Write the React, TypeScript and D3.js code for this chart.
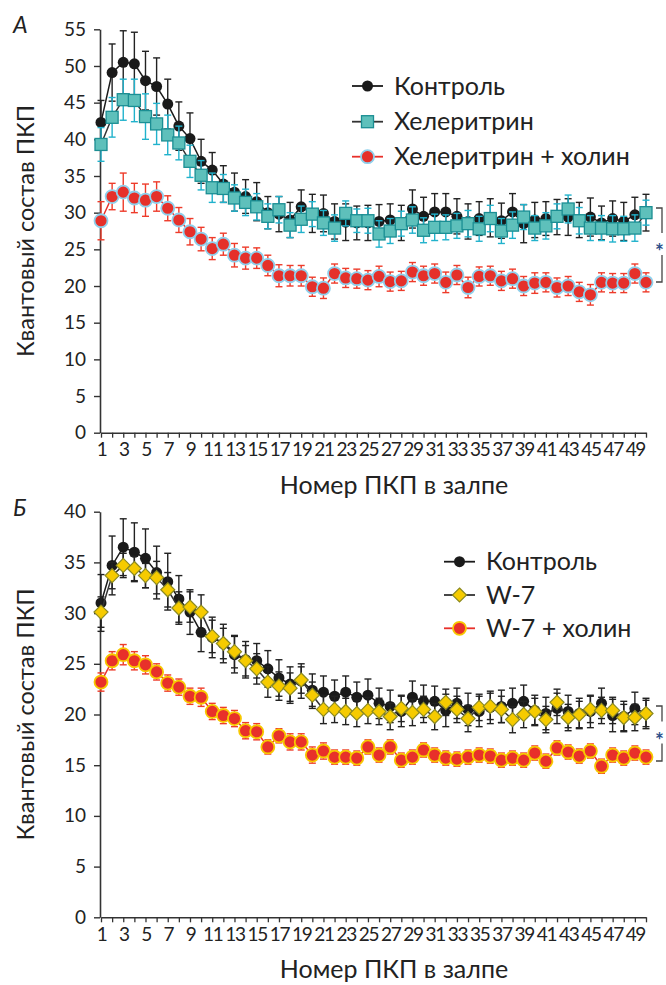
import React, { useRef, useEffect } from "react";
import * as d3 from "d3";

// pulse numbers in the train (x axis)
const pulses = d3.range(1, 51);
const xTickLabels = [1, 3, 5, 7, 9, 11, 13, 15, 17, 19, 21, 23, 25, 27, 29, 31, 33, 35, 37, 39, 41, 43, 45, 47, 49];
const yTicksA = [0, 5, 10, 15, 20, 25, 30, 35, 40, 45, 50, 55];
const yTicksB = [0, 5, 10, 15, 20, 25, 30, 35, 40];

// panel A
const controlA = [42.3, 49.1, 50.5, 50.3, 48, 47.2, 44.8, 41.8, 40.1, 37, 35.8, 33.9, 32.8, 32.2, 31.5, 30, 29.8, 29, 30.8, 29.9, 29.9, 28.8, 28.7, 28.6, 28.6, 28.8, 29, 28.6, 30.5, 29.5, 30.1, 30.1, 29.5, 28.8, 29.2, 29.3, 28.9, 30.1, 28.5, 29, 29.2, 29.4, 29.4, 29, 29.4, 28.6, 29.2, 28.8, 29.7, 30];
const controlAErr = [3.0, 3.9, 4.3, 4.3, 4.0, 3.9, 3.4, 3.3, 3.5, 3.0, 2.4, 2.5, 2.6, 2.3, 2.6, 2.2, 2.4, 2.4, 2.3, 2.6, 2.5, 2.4, 2.5, 2.3, 2.4, 2.3, 2.2, 2.4, 2.6, 2.6, 2.5, 2.5, 2.4, 2.4, 2.3, 2.6, 2.4, 2.5, 2.6, 2.4, 2.3, 2.4, 2.5, 2.4, 2.6, 2.3, 2.4, 2.6, 2.4, 2.5];
const chelA = [39.3, 43, 45.4, 45.3, 43.1, 42.1, 40.6, 39.5, 37, 35.1, 33.4, 33.3, 32, 31.4, 30.8, 29.5, 30.4, 28.3, 29.1, 29.8, 28.6, 27.9, 29.9, 28.9, 28.9, 27.1, 27.5, 28.5, 29, 27.6, 28, 28, 28.2, 28.5, 27.8, 29.2, 27.5, 28.3, 29.4, 27.9, 28.2, 29.5, 30.5, 28.9, 27.9, 27.9, 27.8, 27.8, 27.9, 30];
const chelAErr = [2.3, 2.7, 2.8, 2.9, 3.1, 2.8, 2.7, 2.3, 2.2, 2.0, 2.0, 1.9, 1.8, 1.8, 1.8, 1.7, 1.8, 1.7, 1.8, 1.7, 1.7, 1.8, 1.7, 1.6, 1.7, 1.8, 1.7, 1.7, 1.8, 1.7, 1.8, 1.7, 1.7, 1.8, 1.7, 1.8, 1.7, 1.8, 1.7, 1.7, 1.8, 1.7, 1.9, 1.8, 1.7, 1.7, 1.8, 1.7, 1.8, 1.7];
const cholA = [28.9, 32.2, 32.8, 32, 31.7, 32.2, 30.6, 29, 27.4, 26.4, 25.1, 25.7, 24.2, 23.8, 23.8, 22.8, 21.4, 21.4, 21.4, 19.9, 19.7, 21.7, 21.1, 21, 20.8, 21.3, 20.6, 20.7, 21.9, 21.4, 21.7, 20.5, 21.5, 19.8, 21.3, 21.4, 20.7, 21, 20, 20.4, 20.5, 19.8, 20, 19.2, 18.8, 20.5, 20.4, 20.4, 21.7, 20.5];
const cholAErr = [2.6, 1.8, 2.6, 2.0, 2.2, 2.0, 1.7, 1.7, 1.8, 1.6, 1.5, 1.5, 1.6, 1.5, 1.4, 1.4, 1.5, 1.4, 1.4, 1.3, 1.4, 1.3, 1.3, 1.3, 1.3, 1.4, 1.3, 1.3, 1.3, 1.3, 1.3, 1.4, 1.3, 1.4, 1.3, 1.3, 1.3, 1.3, 1.3, 1.4, 1.3, 1.3, 1.3, 1.3, 1.4, 1.3, 1.3, 1.3, 1.3, 1.3];

// panel B
const controlB = [31, 34.7, 36.5, 36, 35.4, 34, 33.1, 31.4, 30.1, 28.1, 27.6, 27, 25.9, 25.4, 25.3, 24.5, 23.6, 23, 23.3, 22.4, 22.2, 21.8, 22.2, 21.7, 21.9, 21.1, 20.8, 20.3, 21.7, 21.3, 21.3, 20.4, 21.1, 20.5, 20.3, 20.7, 20.8, 21.1, 21.3, 20.4, 20.1, 20.6, 20.3, 20.1, 20.3, 21.1, 19.9, 19.8, 20.6, 20.1];
const controlBErr = [2.8, 2.9, 2.8, 2.9, 2.9, 2.6, 2.8, 2.3, 2.2, 1.9, 2.0, 1.9, 1.8, 1.8, 1.7, 1.8, 1.8, 1.7, 1.7, 1.6, 1.6, 1.6, 1.6, 1.5, 1.6, 1.5, 1.6, 1.5, 1.6, 1.6, 1.5, 1.6, 1.5, 1.6, 1.5, 1.6, 1.6, 1.5, 1.6, 1.5, 1.6, 1.5, 1.6, 1.5, 1.6, 1.5, 1.6, 1.5, 1.6, 1.5];
const w7B = [30.1, 33.7, 34.7, 34.4, 33.7, 33.5, 32.3, 30.5, 30.6, 30.1, 27.7, 27, 26.2, 25.3, 24.5, 23.2, 22.8, 22.6, 23.4, 21.9, 20.5, 20.5, 20.3, 20.1, 20.4, 20.3, 19.8, 20.6, 20.2, 20.5, 19.8, 21.2, 20.5, 19.6, 20.7, 20.8, 20.5, 19.5, 20, 20.3, 19.5, 21.2, 19.7, 20, 20.5, 20.4, 20.4, 19.7, 19.7, 20.1];
const w7BErr = [1.5, 1.3, 1.2, 1.2, 1.2, 1.6, 1.7, 1.6, 1.5, 1.7, 1.6, 1.5, 1.6, 1.5, 1.5, 1.5, 1.4, 1.5, 1.3, 1.3, 1.4, 1.3, 1.3, 1.3, 1.3, 1.3, 1.3, 1.3, 1.3, 1.3, 1.3, 1.3, 1.3, 1.3, 1.3, 1.3, 1.3, 1.3, 1.3, 1.3, 1.3, 1.3, 1.3, 1.3, 1.3, 1.3, 1.3, 1.3, 1.3, 1.3];
const cholB = [23.2, 25.3, 25.9, 25.3, 24.9, 24.2, 23.1, 22.7, 21.8, 21.7, 20.3, 19.9, 19.6, 18.4, 18.3, 16.8, 17.9, 17.3, 17.3, 16, 16.4, 15.8, 15.8, 15.7, 16.8, 16, 16.8, 15.5, 15.8, 16.5, 16, 15.7, 15.6, 15.8, 16, 15.9, 15.5, 15.7, 15.5, 16.2, 15.4, 16.7, 16.3, 15.9, 16.4, 14.9, 16, 15.7, 16.2, 15.8];
const cholBErr = [0.9, 0.9, 1.0, 0.9, 0.9, 0.8, 0.8, 0.8, 0.8, 0.9, 0.8, 0.8, 0.8, 0.8, 0.8, 0.7, 0.7, 0.8, 0.8, 0.8, 0.8, 0.7, 0.7, 0.7, 0.7, 0.7, 0.7, 0.7, 0.7, 0.7, 0.7, 0.7, 0.7, 0.7, 0.7, 0.7, 0.7, 0.7, 0.7, 0.7, 0.7, 0.7, 0.7, 0.7, 0.7, 0.7, 0.7, 0.7, 0.7, 0.7];

const FONT = "Lato, 'Noto Sans', sans-serif";
const AXIS = "#333";

const panels = [
  {
    letter: "А",
    top: 29.3,
    bottom: 432.7,
    yMax: 55,
    yTicks: yTicksA,
    legendX: 352,
    legendY: [86, 121.7, 156.7],
    bracket: [208, 282],
    series: [
      { name: "Контроль", values: controlA, err: controlAErr, line: "#1a1a1a", errColor: "#222", shape: "circle", fill: "#1a1a1a", stroke: "#1a1a1a", r: 5.5 },
      { name: "Хелеритрин", values: chelA, err: chelAErr, line: "#333", errColor: "#21b2cc", shape: "square", fill: "#5ec0bb", stroke: "#1b8e93", r: 6 },
      { name: "Хелеритрин + холин", values: cholA, err: cholAErr, line: "#e8302a", errColor: "#ee3b2a", shape: "circle", fill: "#e5302a", stroke: "#8fd0ec", r: 6.5 },
    ],
  },
  {
    letter: "Б",
    top: 511.7,
    bottom: 917.3,
    yMax: 40,
    yTicks: yTicksB,
    legendX: 444,
    legendY: [561.7, 595, 628.3],
    bracket: [706, 761],
    series: [
      { name: "Контроль", values: controlB, err: controlBErr, line: "#1a1a1a", errColor: "#222", shape: "circle", fill: "#1a1a1a", stroke: "#1a1a1a", r: 5.5 },
      { name: "W-7", values: w7B, err: w7BErr, line: "#333", errColor: "#222", shape: "diamond", fill: "#f6cb00", stroke: "#8b8a22", r: 7 },
      { name: "W-7 + холин", values: cholB, err: cholBErr, line: "#e8302a", errColor: "#ee3b2a", shape: "circle", fill: "#e8302a", stroke: "#f7c800", r: 6.5 },
    ],
  },
];

function addMarker(g, shape, x, y, s) {
  if (shape === "square") {
    return g.append("rect").attr("x", x - s.r).attr("y", y - s.r).attr("width", s.r * 2).attr("height", s.r * 2)
      .attr("fill", s.fill).attr("stroke", s.stroke).attr("stroke-width", 1.3);
  }
  if (shape === "diamond") {
    return g.append("path")
      .attr("d", `M${x},${y - s.r}L${x + s.r},${y}L${x},${y + s.r}L${x - s.r},${y}Z`)
      .attr("fill", s.fill).attr("stroke", s.stroke).attr("stroke-width", 1.2);
  }
  return g.append("circle").attr("cx", x).attr("cy", y).attr("r", s.r)
    .attr("fill", s.fill).attr("stroke", s.stroke).attr("stroke-width", s.fill === s.stroke ? 0 : 1.8);
}

const App = () => {
  const svgRef = useRef(null);

  useEffect(() => {
    const svg = d3.select(svgRef.current);
    svg.selectAll("*").remove();

    const x = d3.scaleLinear().domain([1, 50]).range([101, 646]);

    panels.forEach((p) => {
      const y = d3.scaleLinear().domain([0, p.yMax]).range([p.bottom, p.top]);
      const g = svg.append("g");

      // y axis
      const yAxis = g.append("g")
        .attr("transform", `translate(100,0)`)
        .call(d3.axisLeft(y).tickValues(p.yTicks).tickSize(6).tickSizeOuter(0));
      yAxis.select(".domain").attr("stroke", AXIS).attr("stroke-width", 1.6);
      yAxis.selectAll(".tick line").attr("stroke", AXIS).attr("stroke-width", 1.4);
      yAxis.selectAll(".tick text").attr("x", -14).attr("font-size", 19).attr("font-family", FONT).attr("fill", "#222");

      // x axis: a tick at every pulse, labels at odd pulses
      const xAxis = g.append("g")
        .attr("transform", `translate(0,${p.bottom})`)
        .call(d3.axisBottom(x).tickValues(pulses).tickSize(5).tickSizeOuter(0)
          .tickFormat((d) => (xTickLabels.includes(d) ? String(d) : "")));
      xAxis.select(".domain").attr("stroke", AXIS).attr("stroke-width", 1.6);
      xAxis.selectAll(".tick line").attr("stroke", AXIS).attr("stroke-width", 1.3);
      xAxis.selectAll(".tick text").attr("y", 10).attr("font-size", 19).attr("letter-spacing", -1.4)
        .attr("font-family", FONT).attr("fill", "#222");

      // axis titles
      g.append("text")
        .attr("x", 394).attr("y", p.bottom + 61)
        .attr("text-anchor", "middle").attr("font-size", 25).attr("font-family", FONT).attr("fill", "#222")
        .text("Номер ПКП в залпе");
      g.append("text")
        .attr("transform", `translate(34,${(p.top + p.bottom) / 2}) rotate(-90)`)
        .attr("text-anchor", "middle").attr("font-size", 23.5).attr("font-family", FONT).attr("fill", "#222")
        .text("Квантовый состав ПКП");
      g.append("text")
        .attr("x", 13).attr("y", p.top + 4)
        .attr("font-size", 23).attr("font-style", "italic").attr("font-family", FONT).attr("fill", "#222")
        .text(p.letter);

      // series
      p.series.forEach((s) => {
        const data = pulses.map((n, i) => ({ n, v: s.values[i], e: s.err[i] }));
        const sg = g.append("g");
        data.forEach((d) => {
          const cx = x(d.n);
          sg.append("line").attr("x1", cx).attr("x2", cx).attr("y1", y(d.v - d.e)).attr("y2", y(d.v + d.e))
            .attr("stroke", s.errColor).attr("stroke-width", 1.4);
          [d.v - d.e, d.v + d.e].forEach((v) => {
            sg.append("line").attr("x1", cx - 3.5).attr("x2", cx + 3.5).attr("y1", y(v)).attr("y2", y(v))
              .attr("stroke", s.errColor).attr("stroke-width", 1.4);
          });
        });
        sg.append("path")
          .datum(data)
          .attr("fill", "none").attr("stroke", s.line).attr("stroke-width", 1.5)
          .attr("d", d3.line().x((d) => x(d.n)).y((d) => y(d.v)));
        data.forEach((d) => addMarker(sg, s.shape, x(d.n), y(d.v), s));
      });

      // legend
      p.series.forEach((s, i) => {
        const ly = p.legendY[i];
        g.append("line").attr("x1", p.legendX).attr("x2", p.legendX + 31).attr("y1", ly).attr("y2", ly)
          .attr("stroke", s.line).attr("stroke-width", 1.8);
        addMarker(g, s.shape, p.legendX + 15.5, ly, s);
        g.append("text").attr("x", p.legendX + 42).attr("y", ly).attr("dy", "0.35em")
          .attr("font-size", 25).attr("font-family", FONT).attr("fill", "#222")
          .text(s.name);
      });

      // significance bracket
      const [b0, b1] = p.bracket;
      const mid = (b0 + b1) / 2;
      g.append("path")
        .attr("d", `M656,${b0}H662V${mid - 12}M662,${mid + 10}V${b1}H656`)
        .attr("fill", "none").attr("stroke", "#444").attr("stroke-width", 1.3);
      g.append("text").attr("x", 655).attr("y", mid + 14)
        .attr("font-size", 21).attr("font-weight", "bold").attr("font-family", FONT).attr("fill", "#2b4f8a")
        .text("*");
    });
  }, []);

  return (
    <svg
      ref={svgRef}
      width={666}
      height={985}
      style={{ position: "absolute", left: 0, top: 0, background: "#fff" }}
    />
  );
};

export default App;
